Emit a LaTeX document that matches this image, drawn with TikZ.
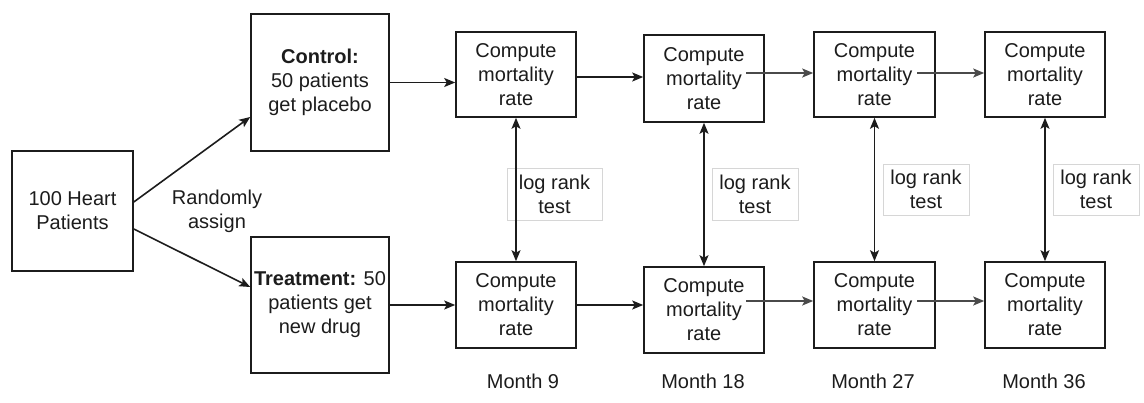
\documentclass[tikz,border=0pt]{standalone}
\usepackage{fontspec}
\setmainfont{Liberation Sans}
\usetikzlibrary{arrows.meta}
\definecolor{ink}{HTML}{1C1C1C}
\definecolor{lightedge}{HTML}{D6D6D6}
\definecolor{greyarrow}{HTML}{4A4A4A}
\begin{document}
\begin{tikzpicture}[x=1pt,y=-1pt,
  every node/.style={font=\fontsize{20}{24}\selectfont, align=center, inner sep=0pt, text=ink},
  box/.style={draw=ink, line width=1.6pt, fill=white},
  cmpbox/.style={box, minimum width=120pt, minimum height=85pt},
  testbox/.style={draw=lightedge, line width=0.9pt, fill=white},
  conn/.style={draw=ink, line width=1.6pt, -{Stealth[length=11pt,width=9pt,inset=2.5pt]}},
  dconn/.style={draw=ink, line width=1.6pt, {Stealth[length=11pt,width=9pt,inset=2.5pt]}-{Stealth[length=11pt,width=9pt,inset=2.5pt]}},
  gconn/.style={draw=greyarrow, line width=1.8pt, -{Stealth[length=11pt,width=9pt,inset=2.5pt]}}
]
\useasboundingbox (0,0) rectangle (1144,403);

% left boxes
\node[box, minimum width=121pt, minimum height=120pt] (P) at (72.5,211) {100 Heart\\Patients};
\node[box, minimum width=138pt, minimum height=137pt] (Ctrl) at (320,82.5) {\textbf{Control:}\\50 patients\\get placebo};
\node[box, minimum width=138pt, minimum height=136pt] (Trt) at (320,305) {\textbf{Treatment:} 50\\patients get\\new drug};
\node (RA) at (217,211) {Randomly\\assign};

% compute boxes (top: control, bottom: treatment)
\node[cmpbox] (C1) at (516,74.5) {Compute\\mortality\\rate};
\node[cmpbox, minimum height=87pt] (C2) at (704,78.5) {Compute\\mortality\\rate};
\node[cmpbox, minimum width=121pt] (C3) at (874.5,74.5) {Compute\\mortality\\rate};
\node[cmpbox] (C4) at (1045,74.5) {Compute\\mortality\\rate};

\node[cmpbox, minimum height=86pt] (B1) at (516,305) {Compute\\mortality\\rate};
\node[cmpbox, minimum height=86pt] (B2) at (704,310) {Compute\\mortality\\rate};
\node[cmpbox, minimum width=121pt, minimum height=86pt] (B3) at (874.5,305) {Compute\\mortality\\rate};
\node[cmpbox, minimum height=86pt] (B4) at (1045,305) {Compute\\mortality\\rate};

% log rank test labels
\node[testbox, minimum width=95pt, minimum height=52pt] (L1) at (554.5,194) {log rank\\test};
\node[testbox, minimum width=86pt, minimum height=52pt] (L2) at (755,194) {log rank\\test};
\node[testbox, minimum width=86pt, minimum height=51pt] (L3) at (926,189.5) {log rank\\test};
\node[testbox, minimum width=86pt, minimum height=51pt] (L4) at (1096,189.5) {log rank\\test};

% month labels
\node (M1) at (523,381) {Month 9};
\node (M2) at (703,381) {Month 18};
\node (M3) at (873,381) {Month 27};
\node (M4) at (1044,381) {Month 36};

% random assignment
\draw[conn] ([yshift=9pt]P.east) -- ([yshift=-34.5pt]Ctrl.west);
\draw[conn] ([yshift=-18pt]P.east) -- ([yshift=18pt]Trt.west);

% into first compute boxes
\draw[conn] (Ctrl.east) -- (Ctrl.east -| C1.west);
\draw[conn] (Trt.east) -- (Trt.east -| B1.west);

% top row chain
\draw[conn] ([yshift=-2.5pt]C1.east) -- ([yshift=-2.5pt]C1.east -| C2.west);
\coordinate (s2) at ([xshift=42pt,yshift=5.5pt]C2.center);
\draw[gconn] (s2) -- (s2 -| C3.west);
\coordinate (s3) at ([xshift=42.5pt,yshift=1.5pt]C3.center);
\draw[gconn] (s3) -- (s3 -| C4.west);

% bottom row chain
\draw[conn] (B1.east) -- (B1.east -| B2.west);
\coordinate (t2) at ([xshift=42pt,yshift=9pt]B2.center);
\draw[gconn] (t2) -- (t2 -| B3.west);
\coordinate (t3) at ([xshift=42.5pt,yshift=4pt]B3.center);
\draw[gconn] (t3) -- (t3 -| B4.west);

% log rank comparisons
\draw[dconn] (C1.south) -- (B1.north);
\draw[dconn] (C2.south) -- (B2.north);
\draw[dconn] (C3.south) -- (B3.north);
\draw[dconn] (C4.south) -- (B4.north);
\end{tikzpicture}
\end{document}
